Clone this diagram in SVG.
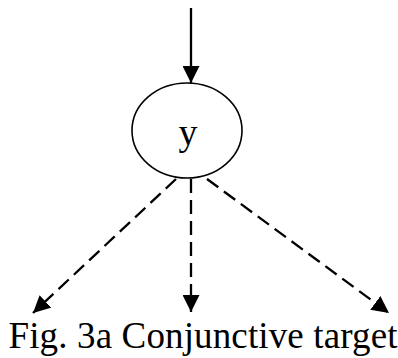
<svg xmlns="http://www.w3.org/2000/svg" width="398" height="358" viewBox="0 0 398 358">
  <style>
    .edge { fill: none; stroke: #000; stroke-width: 2.3; }
    .dashed { stroke-dasharray: 14 7; }
    .node { fill: #fff; stroke: #000; stroke-width: 1.6; }
    .label { font-family: "Liberation Serif", "Times New Roman", serif; font-size: 37px; fill: #000; }
  </style>
  <defs>
    <marker id="arrow" markerUnits="userSpaceOnUse" markerWidth="17" markerHeight="17" viewBox="0 0 17 17" refX="17" refY="8.5" orient="auto">
      <path d="M0,0 L17,8.5 L0,17 z" fill="#000"/>
    </marker>
  </defs>

  <!-- connectors -->
  <g id="connectors">
    <line class="edge" x1="191" y1="8" x2="191" y2="83" marker-end="url(#arrow)"/>
    <line class="edge dashed" x1="176" y1="179" x2="33" y2="313" marker-end="url(#arrow)"/>
    <line class="edge dashed" x1="191" y1="179" x2="191" y2="312" marker-end="url(#arrow)"/>
    <line class="edge dashed" x1="207" y1="179" x2="389" y2="313" marker-end="url(#arrow)"/>
  </g>

  <!-- node y -->
  <g id="node-y">
    <ellipse class="node" cx="187" cy="130.5" rx="55" ry="47.5"/>
    <text class="label" x="188" y="145" text-anchor="middle" style="font-size:38px">y</text>
  </g>

  <!-- caption -->
  <g id="caption">
    <text class="label" x="8.5" y="348" textLength="389" lengthAdjust="spacing">Fig. 3a Conjunctive target</text>
  </g>
</svg>
